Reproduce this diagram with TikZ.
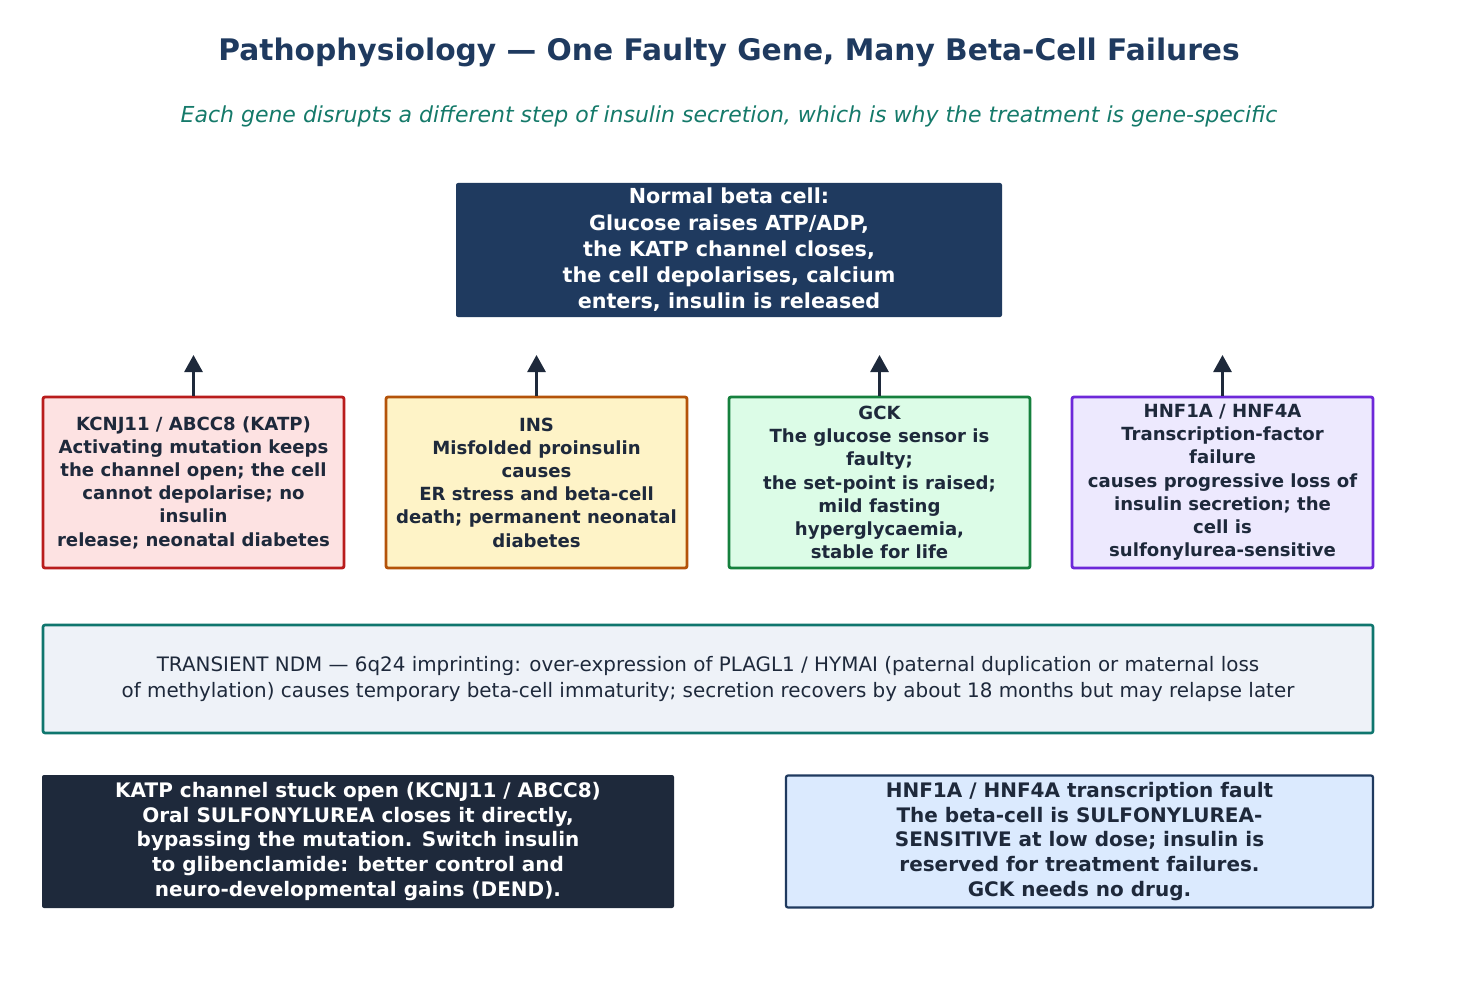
\documentclass[tikz,border=0pt]{standalone}
\usepackage{fontspec}
\setmainfont{DejaVu Sans}
\usetikzlibrary{arrows.meta}
\definecolor{navy}{HTML}{1F3A5F}
\definecolor{teal}{HTML}{157A6A}
\definecolor{ink}{HTML}{1E293B}
\definecolor{redb}{HTML}{B91C1C}\definecolor{redf}{HTML}{FDE2E2}
\definecolor{orb}{HTML}{B45309}\definecolor{orf}{HTML}{FEF3C7}
\definecolor{grb}{HTML}{15803D}\definecolor{grf}{HTML}{DCFCE7}
\definecolor{pub}{HTML}{6D28D9}\definecolor{puf}{HTML}{EDE9FE}
\definecolor{tlb}{HTML}{0F766E}\definecolor{tlf}{HTML}{EEF2F8}
\definecolor{blf}{HTML}{DBEAFE}
\begin{document}
\begin{tikzpicture}[x=1pt,y=-1pt,
  titletext/.style={font=\bfseries\fontsize{29.7}{35}\selectfont, text=navy},
  subtext/.style={font=\itshape\fontsize{22}{26}\selectfont, text=teal},
  genebox/.style={draw, line width=2.8pt, rounded corners=2pt, minimum width=301pt, minimum height=171pt, inner sep=0pt, align=center, text=ink, font=\bfseries\fontsize{18.1}{23.2}\selectfont},
  darkbox/.style={rounded corners=2pt, inner sep=0pt, align=center, text=white, font=\bfseries\fontsize{20}{24.6}\selectfont},
  upar/.style={draw=ink, line width=2.8pt, -{Triangle[width=18pt,length=17pt]}}
]
\useasboundingbox[fill=white] (0,0) rectangle (1458,1000);
\node[titletext] (title) at (729,52) {Pathophysiology — One Faulty Gene, Many Beta-Cell Failures};
\node[subtext] (sub) at (729,116) {Each gene disrupts a different step of insulin secretion, which is why the treatment is gene-specific};

\node[darkbox, fill=navy, minimum width=546pt, minimum height=134pt, font=\bfseries\fontsize{20.7}{26.3}\selectfont] (normal) at (729,250)
 {Normal beta cell:\\Glucose raises ATP/ADP,\\the KATP channel closes,\\the cell depolarises, calcium\\enters, insulin is released};

\node[genebox, draw=redb, fill=redf] (katp) at (193.5,482.5)
 {KCNJ11 / ABCC8 (KATP)\\Activating mutation keeps\\the channel open; the cell\\cannot depolarise; no\\insulin\\release; neonatal diabetes};
\node[genebox, draw=orb, fill=orf] (ins) at (536.5,482.5)
 {INS\\Misfolded proinsulin\\causes\\ER stress and beta-cell\\death; permanent neonatal\\diabetes};
\node[genebox, draw=grb, fill=grf] (gck) at (879.5,482.5)
 {GCK\\The glucose sensor is\\faulty;\\the set-point is raised;\\mild fasting\\hyperglycaemia,\\stable for life};
\node[genebox, draw=pub, fill=puf] (hnf) at (1222.5,482.5)
 {HNF1A / HNF4A\\Transcription-factor\\failure\\causes progressive loss of\\insulin secretion; the\\cell is\\sulfonylurea-sensitive};

\coordinate (t1) at (193.5,355);
\coordinate (t2) at (536.5,355);
\coordinate (t3) at (879.5,355);
\coordinate (t4) at (1222.5,355);
\draw[upar] (katp.north) -- (t1);
\draw[upar] (ins.north) -- (t2);
\draw[upar] (gck.north) -- (t3);
\draw[upar] (hnf.north) -- (t4);

\node[draw=tlb, fill=tlf, line width=2.6pt, rounded corners=2pt, minimum width=1330pt, minimum height=108pt, inner sep=0pt, align=center, text=ink, font=\fontsize{19.9}{26}\selectfont] (trans) at (708,679)
 {TRANSIENT NDM — 6q24 imprinting: over-expression of PLAGL1 / HYMAI (paternal duplication or maternal loss\\of methylation) causes temporary beta-cell immaturity; secretion recovers by about 18 months but may relapse later};

\node[darkbox, fill=ink, minimum width=632pt, minimum height=133pt] (treat1) at (358,841.5)
 {KATP channel stuck open (KCNJ11 / ABCC8)\\Oral SULFONYLUREA closes it directly,\\bypassing the mutation. Switch insulin\\to glibenclamide: better control and\\neuro-developmental gains (DEND).};
\node[darkbox, fill=blf, draw=navy, line width=2.2pt, text=ink, minimum width=587pt, minimum height=132pt] (treat2) at (1079.5,841.5)
 {HNF1A / HNF4A transcription fault\\The beta-cell is SULFONYLUREA-\\SENSITIVE at low dose; insulin is\\reserved for treatment failures.\\GCK needs no drug.};
\end{tikzpicture}
\end{document}
